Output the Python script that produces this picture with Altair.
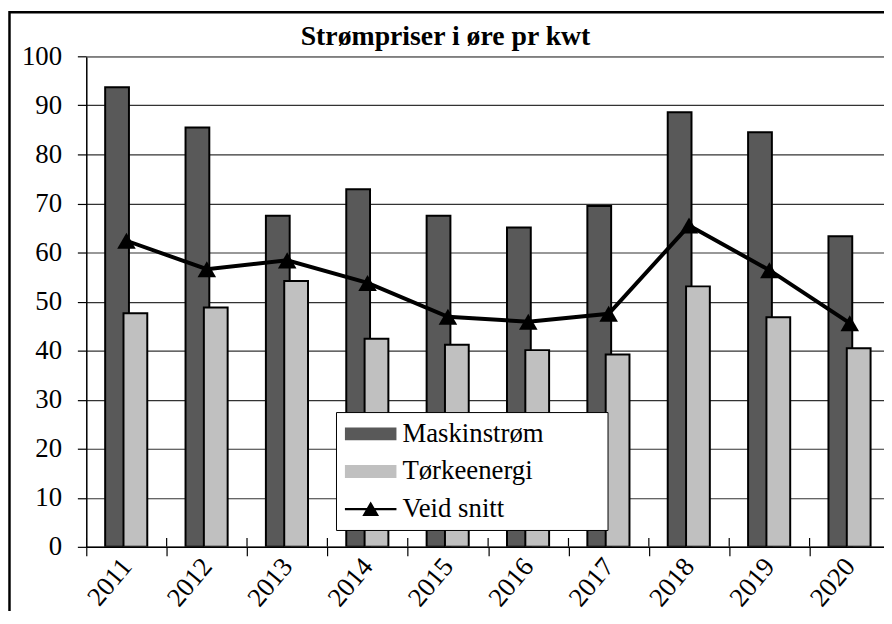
import altair as alt
import pandas as pd

years = ["2011", "2012", "2013", "2014", "2015", "2016", "2017", "2018", "2019", "2020"]
maskinstrom = [93.7, 85.5, 67.5, 72.9, 67.5, 65.1, 69.5, 88.6, 84.5, 63.3]
torkeenergi = [47.6, 48.8, 54.2, 42.4, 41.2, 40.1, 39.2, 53.1, 46.8, 40.5]
veid_snitt = [62.4, 56.6, 58.4, 53.8, 46.9, 45.9, 47.5, 65.5, 56.4, 45.6]
series_names = ["Maskinstrøm", "Tørkeenergi", "Veid snitt"]
series_colors = ["#595959", "#c0c0c0", "#000000"]
y_ticks = [0, 10, 20, 30, 40, 50, 60, 70, 80, 90, 100]

df = pd.DataFrame({"year": years, "mask": maskinstrom, "tork": torkeenergi, "veid": veid_snitt})
legend_df = pd.DataFrame({"series": series_names, "y": [-30, -30, -30]})

FONT = "Liberation Serif"
W, H = 805, 495
STEP_RANGE = [0, 811]

rect_path = "M-1,-0.5H3V0.5H-1Z"
line_path = "M-1,-0.09H3V0.09H-1ZM0.35,0.52L1,-0.6L1.65,0.52Z"

xscale = alt.Scale(range=STEP_RANGE, paddingInner=0, paddingOuter=0)
yscale = alt.Scale(domain=[0, 100], nice=False)

x_enc = alt.X("year:N", scale=xscale, sort=years,
              axis=alt.Axis(title=None, labelAngle=-50, labelAlign="right", labelBaseline="middle",
                            labelFont=FONT, labelFontSize=27, labelColor="black", labelPadding=6,
                            tickBand="extent", tickSize=9, tickColor="black", tickWidth=1.2,
                            domainColor="black", domainWidth=1.5, grid=False))
y_axis = alt.Axis(title=None, values=y_ticks, labelFont=FONT, labelFontSize=27, labelColor="black",
                  labelPadding=16, tickSize=9, tickColor="black", tickWidth=1.2,
                  domainColor="black", domainWidth=1.5, grid=True, gridColor="#333333", gridWidth=1.2)

base = alt.Chart(df)

frame = alt.Chart(pd.DataFrame({"a": [0]})).mark_rect(
    filled=False, stroke="black", strokeWidth=2.5, clip=False
).encode(x=alt.value(-77.5), x2=alt.value(950), y=alt.value(-44.5), y2=alt.value(700))

top_line = alt.Chart(pd.DataFrame({"a": [0]})).mark_rule(
    color="#8a8a8a", strokeWidth=2.2, clip=True
).encode(y=alt.Y("top:Q", scale=yscale)).transform_calculate(top="100")

bars_mask = base.mark_bar(size=24, xOffset=-9.5, color="#595959", stroke="black",
                          strokeWidth=2, clip=True).encode(
    x=x_enc, y=alt.Y("mask:Q", scale=yscale, axis=y_axis)
)
bars_tork = base.mark_bar(size=24, xOffset=9, color="#c0c0c0", stroke="black",
                          strokeWidth=2, clip=True).encode(
    x=x_enc, y=alt.Y("tork:Q", scale=yscale)
)
up_ticks = base.mark_rule(color="black", strokeWidth=1.2, clip=True).encode(
    x=alt.X("year:N", scale=xscale, sort=years, bandPosition=0),
    y=alt.Y("zero:Q", scale=yscale), y2="tickTop:Q"
).transform_calculate(zero="0", tickTop="1.8")

line = base.mark_line(color="black", strokeWidth=4, clip=True).encode(
    x=x_enc, y=alt.Y("veid:Q", scale=yscale)
)
points = base.mark_point(shape="triangle-up", filled=True, color="black", size=350,
                         opacity=1, clip=True).encode(
    x=x_enc, y=alt.Y("veid:Q", scale=yscale)
)

leg = alt.Legend(title=" ", titleOrient="right", titlePadding=56, titleFontSize=10,
                 orient="none", legendX=252, legendY=359,
                 labelFont=FONT, labelFontSize=27, labelColor="black", labelOffset=31,
                 symbolSize=676, symbolStrokeColor="black", symbolStrokeWidth=2,
                 strokeColor="black", fillColor="white", padding=8, rowPadding=11,
                 symbolOpacity=1, labelLimit=400)

legend_layer = alt.Chart(legend_df).mark_point(filled=True, size=676, stroke="black",
                                                strokeWidth=2, clip=True).encode(
    x=alt.value(100),
    y=alt.Y("y:Q", scale=yscale),
    color=alt.Color("series:N", scale=alt.Scale(domain=series_names, range=series_colors),
                    legend=leg, sort=series_names),
    shape=alt.Shape("series:N", scale=alt.Scale(domain=series_names,
                                                range=[rect_path, rect_path, line_path]),
                    legend=leg, sort=series_names),
)

chart = alt.layer(frame, top_line, bars_mask, bars_tork, up_ticks, line, points, legend_layer).properties(
    width=W, height=H,
    title=alt.Title("Strømpriser i øre pr kwt", font=FONT, fontSize=28, fontWeight="bold",
                    color="black", anchor="middle", dx=-40, dy=46, offset=6),
    autosize=alt.AutoSizeParams(type="none"),
    padding={"left": 79, "top": 46, "right": 0, "bottom": 62},
).configure_view(stroke=None).configure(background="white")

chart.save("out.html", embed_options={"renderer": "svg", "actions": False})
